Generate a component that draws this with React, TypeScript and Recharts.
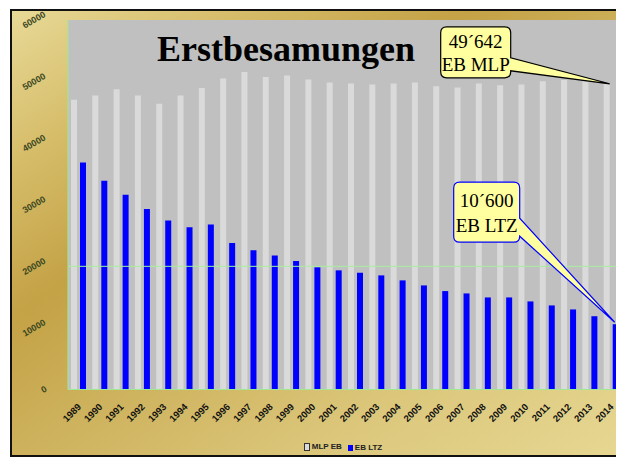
import { Bar, BarChart, CartesianGrid, LabelList, Legend, ReferenceLine, XAxis, YAxis } from 'recharts';

const years = [
  '1989', '1990', '1991', '1992', '1993', '1994', '1995', '1996', '1997',
  '1998', '1999', '2000', '2001', '2002', '2003', '2004', '2005', '2006',
  '2007', '2008', '2009', '2010', '2011', '2012', '2013', '2014',
];

// Erstbesamungen MLP (hell) und LTZ (blau)
const mlpEb = [
  47070, 47720, 48750, 47720, 46420, 47720, 48960, 50500, 51570,
  50760, 50990, 50330, 49840, 49680, 49520, 49680, 49840, 49240,
  49030, 49680, 49400, 49520, 50060, 50270, 50060, 49642,
];
const ebLtz = [
  36850, 33910, 31630, 29300, 27440, 26360, 26790, 23800, 22610,
  21740, 20870, 19840, 19350, 18960, 18530, 17720, 16900, 15980,
  15600, 14950, 14950, 14300, 13650, 13000, 11900, 10600,
];

const yTicks = [0, 10000, 20000, 30000, 40000, 50000, 60000];
const seriesNames = ['MLP EB', 'EB LTZ'];
const mlpCallout = ['49´642', 'EB MLP'];
const ltzCallout = ['10´600', 'EB LTZ'];

const data = years.map((year, i) => ({ year, mlp: mlpEb[i], ltz: ebLtz[i] }));

const LIGHT_BAR = '#dadada';
const BLUE = '#0000ff';
const CALLOUT_FILL = '#ffffa0';

function YearTick({ x, y, payload }: any) {
  const ax = x + 3;
  const ay = y + 10;
  return (
    <text
      x={ax}
      y={ay}
      transform={`rotate(-45, ${ax}, ${ay})`}
      textAnchor="end"
      fontSize={9.5}
      fontWeight="bold"
      fontFamily="Arial, Liberation Sans, sans-serif"
      fill="#111"
    >
      {payload.value}
    </text>
  );
}

function ValueTick({ x, y, payload }: any) {
  const cx = payload.value === 0 ? x - 16 : x - 26;
  return (
    <text
      x={cx}
      y={y + 3}
      transform={`rotate(-30, ${cx}, ${y})`}
      textAnchor="middle"
      fontSize={9}
      fontWeight="bold"
      fontFamily="Arial, Liberation Sans, sans-serif"
      fill="#3c4822"
    >
      {payload.value}
    </text>
  );
}

interface CalloutProps {
  tx: number;
  ty: number;
  box: [number, number, number, number]; // left, top, right, bottom offsets from tip
  base: [number, number]; // pointer base on right edge, offsets from tip
  lines: string[];
  baselines: [number, number];
  stroke: string;
}

function Callout({ tx, ty, box, base, lines, baselines, stroke }: CalloutProps) {
  const x0 = tx + box[0];
  const y0 = ty + box[1];
  const x1 = tx + box[2];
  const y1 = ty + box[3];
  const r = 6;
  const d = [
    `M ${x0 + r} ${y0}`,
    `H ${x1 - r}`,
    `Q ${x1} ${y0} ${x1} ${y0 + r}`,
    `V ${ty + base[0]}`,
    `L ${tx} ${ty}`,
    `L ${x1} ${ty + base[1]}`,
    `V ${y1 - r}`,
    `Q ${x1} ${y1} ${x1 - r} ${y1}`,
    `H ${x0 + r}`,
    `Q ${x0} ${y1} ${x0} ${y1 - r}`,
    `V ${y0 + r}`,
    `Q ${x0} ${y0} ${x0 + r} ${y0}`,
    'Z',
  ].join(' ');
  const cx = (x0 + x1) / 2;
  return (
    <g>
      <path d={d} fill={CALLOUT_FILL} stroke={stroke} strokeWidth={1.2} />
      {lines.map((t, i) => (
        <text
          key={i}
          x={cx}
          y={y0 + baselines[i]}
          textAnchor="middle"
          fontSize={19}
          fontFamily="Liberation Serif, Times New Roman, serif"
          fill="#000"
        >
          {t}
        </text>
      ))}
    </g>
  );
}

function LegendContent() {
  const item = (swatch: any, label: string) => (
    <span style={{ display: 'inline-flex', alignItems: 'center', marginRight: 6 }}>
      {swatch}
      <span style={{ marginLeft: 2 }}>{label}</span>
    </span>
  );
  return (
    <div
      style={{
        textAlign: 'center',
        fontFamily: 'Arial, Liberation Sans, sans-serif',
        fontSize: 8,
        fontWeight: 'bold',
        color: '#222',
        paddingLeft: 60,
      }}
    >
      {item(
        <span style={{ width: 4, height: 6, background: LIGHT_BAR, border: '1px solid #333', display: 'inline-block' }} />,
        seriesNames[0],
      )}
      {item(<span style={{ width: 5, height: 6, background: BLUE, display: 'inline-block' }} />, seriesNames[1])}
    </div>
  );
}

export default function App() {
  const last = years.length - 1;
  return (
    <div style={{ position: 'relative', width: 614, height: 453, overflow: 'hidden' }}>
      <div
        style={{
          position: 'absolute',
          left: 2,
          top: 1,
          width: 612,
          height: 448,
          background:
            'linear-gradient(146deg, #e8da98 0%, #d6bd6a 18%, #c4a246 36%, #cfb460 55%, #ddc97e 78%, #e6d792 100%)',
        }}
      />
      <div style={{ position: 'absolute', left: 0, top: 0 }}>
        <BarChart
          width={616}
          height={453}
          data={data}
          margin={{ top: 12, right: 2, bottom: 0, left: 10 }}
          barSize={6}
          barGap={3}
        >
          <CartesianGrid fill="#c0c0c0" stroke="none" horizontal={false} vertical={false} />
          <ReferenceLine y={20000} stroke="#a8ee9e" strokeWidth={1} />
          <XAxis
            dataKey="year"
            interval={0}
            height={61}
            tick={<YearTick />}
            tickLine={false}
            axisLine={{ stroke: '#9fe894' }}
          />
          <YAxis
            width={50}
            domain={[0, 60000]}
            ticks={yTicks}
            tick={<ValueTick />}
            tickLine={false}
            axisLine={{ stroke: '#9fe894' }}
          />
          <Legend
            content={<LegendContent />}
            wrapperStyle={{ position: 'absolute', top: 434, left: 0, width: 616 }}
          />
          <Bar dataKey="mlp" name={seriesNames[0]} fill={LIGHT_BAR} isAnimationActive={false}>
            <LabelList
              dataKey="mlp"
              content={(p: any) =>
                p.index === last ? (
                  <Callout
                    tx={p.x + p.width}
                    ty={p.y}
                    box={[-169, -57, -99, -6]}
                    base={[-26, -13]}
                    lines={mlpCallout}
                    baselines={[21, 44.5]}
                    stroke="#000"
                  />
                ) : null
              }
            />
          </Bar>
          <Bar dataKey="ltz" name={seriesNames[1]} fill={BLUE} isAnimationActive={false}>
            <LabelList
              dataKey="ltz"
              content={(p: any) =>
                p.index === last ? (
                  <Callout
                    tx={p.x + 2}
                    ty={p.y - 2}
                    box={[-161, -140, -95, -80]}
                    base={[-104, -86]}
                    lines={ltzCallout}
                    baselines={[25, 50]}
                    stroke={BLUE}
                  />
                ) : null
              }
            />
          </Bar>
        </BarChart>
      </div>
      <div
        style={{
          position: 'absolute',
          left: 60,
          top: 21,
          width: 436,
          textAlign: 'center',
          fontFamily: 'Liberation Serif, Times New Roman, serif',
          fontWeight: 'bold',
          fontSize: 36,
          lineHeight: '40px',
          color: '#000',
        }}
      >
        Erstbesamungen
      </div>
      <div
        style={{
          position: 'absolute',
          left: 2,
          top: 1,
          width: 608,
          height: 444,
          border: '2px solid #111',
          pointerEvents: 'none',
        }}
      />
    </div>
  );
}
